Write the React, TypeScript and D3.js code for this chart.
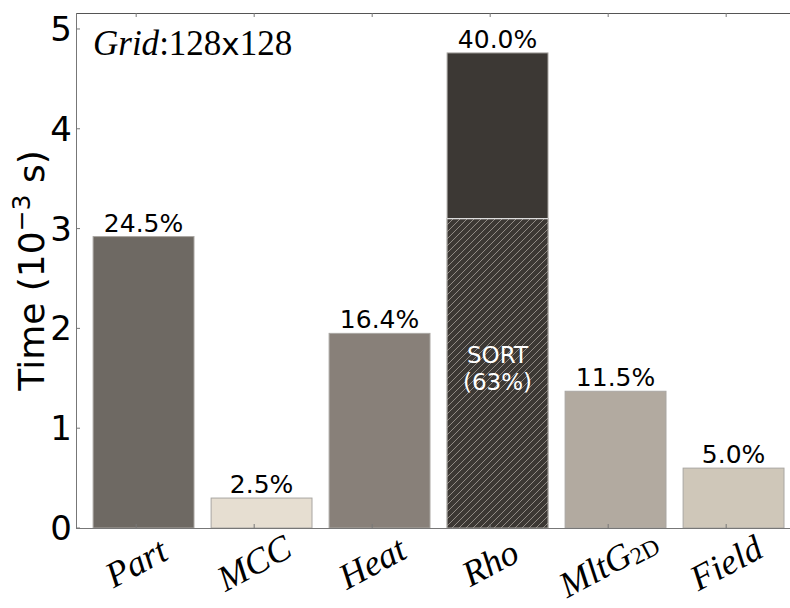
import React from "react";
import * as d3 from "d3";

const categories = ["Part", "MCC", "Heat", "Rho", "MltG", "Field"];
const categorySubs = ["", "", "", "", "2D", ""];
const times = [2.92, 0.3, 1.95, 4.76, 1.37, 0.6];
const percentLabels = ["24.5%", "2.5%", "16.4%", "40.0%", "11.5%", "5.0%"];
const barColors = ["#6e6963", "#e6ded1", "#888079", "#3c3834", "#b2aaa0", "#cfc7b9"];
const sortTime = 3.1;
const sortLabel = ["SORT", "(63%)"];
const yTicks = [0, 1, 2, 3, 4, 5];
const gridLabel = { italic: "Grid", rest: ":128", x: "x", rest2: "128" };

const W = 790;
const H = 608;
const left = 76;
const top = 13;
const bottom = 528;

export default function App() {
  const x = d3.scaleLinear().domain([-0.51, 6.11]).range([left, left + 118 * 6.62]);
  const y = d3.scaleLinear().domain([0, 5.16]).range([bottom, top]);
  const right = W + 20;
  const barL = (i: number) => x(i - 0.365);
  const barR = (i: number) => x(i + 0.49);
  const sans = "DejaVu Sans";
  const serif = "Liberation Serif";
  const rhoIdx = 3;

  return (
    <svg
      width={W}
      height={H}
      style={{ position: "absolute", left: 0, top: 0, display: "block", background: "#fff" }}
    >
      <defs>
        <pattern id="hatch" patternUnits="userSpaceOnUse" width="7" height="7">
          <rect width="7" height="7" fill={barColors[rhoIdx]} />
          <path d="M-1,1 l2,-2 M0,7 l7,-7 M6,8 l2,-2" stroke="#918b85" strokeWidth="1" />
        </pattern>
      </defs>

      {/* bars */}
      {times.map((v, i) => (
        <rect
          key={"b" + i}
          x={barL(i)}
          y={y(v)}
          width={barR(i) - barL(i)}
          height={y(0) - y(v)}
          fill={barColors[i]}
          stroke="#a9a6a2"
          strokeWidth={1}
        />
      ))}
      {/* sort hatch on Rho */}
      <rect
        x={barL(rhoIdx)}
        y={y(sortTime)}
        width={barR(rhoIdx) - barL(rhoIdx)}
        height={y(0) - y(sortTime)}
        fill="url(#hatch)"
        stroke="#a9a6a2"
        strokeWidth={1}
      />
      <line
        x1={barL(rhoIdx)}
        x2={barR(rhoIdx)}
        y1={y(sortTime)}
        y2={y(sortTime)}
        stroke="#dcdcdc"
        strokeWidth={1.2}
      />
      <text
        x={(barL(rhoIdx) + barR(rhoIdx)) / 2}
        y={363}
        textAnchor="middle"
        fontFamily={sans}
        fontSize={23}
        fill="#ffffff"
      >
        {sortLabel[0]}
      </text>
      <text
        x={(barL(rhoIdx) + barR(rhoIdx)) / 2}
        y={390}
        textAnchor="middle"
        fontFamily={sans}
        fontSize={23}
        fill="#ffffff"
      >
        {sortLabel[1]}
      </text>

      {/* percent labels */}
      {times.map((v, i) => (
        <text
          key={"p" + i}
          x={(barL(i) + barR(i)) / 2}
          y={y(v) - 5}
          textAnchor="middle"
          fontFamily={sans}
          fontSize={25}
          fill="#000"
        >
          {percentLabels[i]}
        </text>
      ))}

      {/* spines */}
      <line x1={left} x2={right} y1={top + 0.5} y2={top + 0.5} stroke="#555" strokeWidth={1} />
      <line x1={left} x2={right} y1={bottom + 0.5} y2={bottom + 0.5} stroke="#777" strokeWidth={1} />
      <line x1={left + 0.5} x2={left + 0.5} y1={top} y2={bottom} stroke="#777" strokeWidth={1} />

      {/* y ticks */}
      {yTicks.map((t) => (
        <g key={"y" + t}>
          <line x1={left} x2={left + 4} y1={y(t)} y2={y(t)} stroke="#777" strokeWidth={1} />
          <text
            x={72}
            y={y(t)}
            textAnchor="end"
            dominantBaseline="central"
            fontFamily={sans}
            fontSize={34}
            fill="#000"
          >
            {t}
          </text>
        </g>
      ))}

      {/* x ticks and labels */}
      {categories.map((c, i) => (
        <g key={"x" + i}>
          <line x1={x(i)} x2={x(i)} y1={bottom} y2={bottom - 4} stroke="#777" strokeWidth={1} />
          <line x1={x(i)} x2={x(i)} y1={top} y2={top + 4} stroke="#777" strokeWidth={1} />
          <text
            transform={`translate(${x(i)},${563}) rotate(-28)`}
            textAnchor="middle"
            dominantBaseline="central"
            fontFamily={serif}
            fontSize={36}
            fill="#000"
          >
            <tspan fontStyle="italic">{c}</tspan>
            {categorySubs[i] ? (
              <tspan fontSize={24} dy={7}>
                {categorySubs[i]}
              </tspan>
            ) : null}
          </text>
        </g>
      ))}

      {/* y label */}
      <text
        transform={`translate(44,${(top + bottom) / 2}) rotate(-90)`}
        textAnchor="middle"
        fontFamily={sans}
        fontSize={36}
        fill="#000"
      >
        <tspan>Time (10</tspan>
        <tspan fontSize={25} dy={-14}>−3</tspan>
        <tspan dy={14}> s)</tspan>
      </text>

      {/* grid annotation */}
      <text x={93} y={55} fontFamily={serif} fontSize={35} fill="#000">
        <tspan fontStyle="italic">{gridLabel.italic}</tspan>
        <tspan>{gridLabel.rest}</tspan>
        <tspan fontFamily={sans} fontSize={31}>{gridLabel.x}</tspan>
        <tspan>{gridLabel.rest2}</tspan>
      </text>
    </svg>
  );
}
